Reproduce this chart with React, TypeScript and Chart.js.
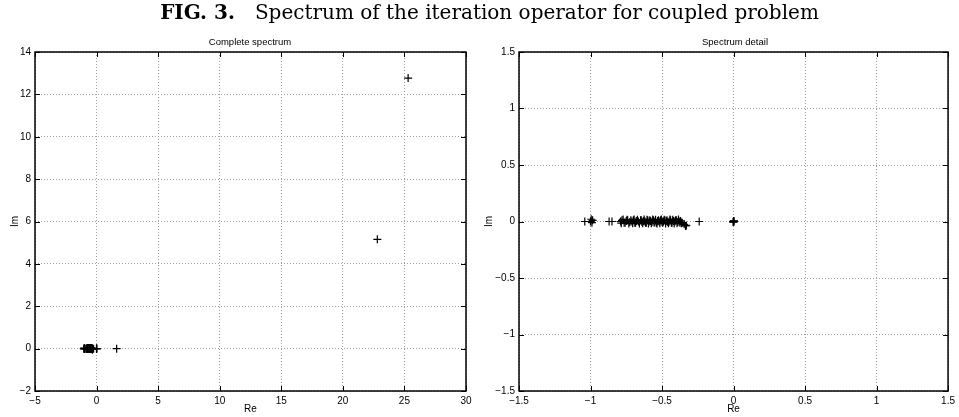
import React, { useEffect, useRef } from "react";
import { Chart, registerables } from "chart.js";
Chart.register(...registerables);

// Eigenvalues of the iteration operator (real and imaginary parts)
const eigRe = [
  25.3, 22.8, 1.63,
  -1.04, -1.0, -0.995, -0.99, -0.985, -0.87, -0.85,
  -0.79, -0.78, -0.765, -0.75, -0.74, -0.725, -0.71, -0.70, -0.69, -0.68,
  -0.665, -0.65, -0.64, -0.63, -0.62, -0.61, -0.60, -0.59, -0.58, -0.57,
  -0.56, -0.55, -0.54, -0.53, -0.52, -0.51, -0.50, -0.49, -0.48, -0.47,
  -0.46, -0.45, -0.44, -0.43, -0.42, -0.41, -0.40, -0.39, -0.38, -0.37, -0.36,
  -0.785, -0.772, -0.758, -0.745, -0.732, -0.718, -0.705, -0.695, -0.685, -0.672,
  -0.658, -0.645, -0.635, -0.625, -0.615, -0.605, -0.595, -0.585, -0.575, -0.565,
  -0.555, -0.545, -0.535, -0.525, -0.515, -0.505, -0.495, -0.485, -0.475, -0.465,
  -0.455, -0.445, -0.435, -0.425, -0.415, -0.405, -0.395, -0.385, -0.375, -0.365,
  -0.345, -0.335, -0.33, -0.24,
  0, 0.003, -0.003, 0, 0.002,
];
const eigIm = [
  12.77, 5.16, 0.0,
  0, 0, 0.02, -0.01, 0.01, 0, 0,
  0, 0.01, -0.01, 0.005, 0.01, -0.005, 0, 0.01, -0.01, 0.005,
  0, 0.01, -0.005, 0.005, 0, -0.01, 0.01, 0, 0.005, -0.005,
  0.01, 0, -0.01, 0.005, 0, 0.01, -0.005, 0, 0.01, 0.005,
  -0.005, 0, 0.01, -0.01, 0.005, 0, 0.01, -0.005, 0, 0.005, -0.01,
  -0.015, 0.018, -0.01, 0.015, -0.018, 0.01, -0.015, 0.018, -0.01, 0.015,
  -0.018, 0.01, -0.015, 0.018, -0.01, 0.015, -0.018, 0.01, -0.015, 0.018,
  -0.01, 0.015, -0.018, 0.01, -0.015, 0.018, -0.01, 0.015, -0.018, 0.01,
  -0.015, 0.018, -0.01, 0.015, -0.018, 0.01, -0.015, 0.018, -0.01, -0.015,
  -0.025, -0.04, -0.035, 0,
  0, 0.005, -0.005, 0.003, -0.003,
];

const mainTitleBold = "FIG. 3.";
const mainTitleText = "Spectrum of the iteration operator for coupled problem";
const leftTitle = "Complete spectrum";
const rightTitle = "Spectrum detail";
const xLabel = "Re";
const yLabel = "Im";

const leftX = { min: -5, max: 30, step: 5 };
const leftY = { min: -2, max: 14, step: 2 };
const rightX = { min: -1.5, max: 1.5, step: 0.5 };
const rightY = { min: -1.5, max: 1.5, step: 0.5 };

const fmt = (v: number) => {
  const r = Math.round(v * 1000) / 1000;
  return (r < 0 ? "\u2212" : "") + String(Math.abs(r));
};

const boxPlugin = {
  id: "matlabBox",
  afterDraw(chart: any) {
    const { ctx, chartArea: a, scales } = chart;
    ctx.save();
    ctx.strokeStyle = "#000";
    ctx.lineWidth = 1;
    const tl = 5;
    ctx.beginPath();
    for (const t of scales.x.ticks) {
      const px = Math.round(scales.x.getPixelForValue(t.value)) + 0.5;
      ctx.moveTo(px, a.bottom);
      ctx.lineTo(px, a.bottom - tl);
      ctx.moveTo(px, a.top);
      ctx.lineTo(px, a.top + tl);
    }
    for (const t of scales.y.ticks) {
      const py = Math.round(scales.y.getPixelForValue(t.value)) + 0.5;
      ctx.moveTo(a.left, py);
      ctx.lineTo(a.left + tl, py);
      ctx.moveTo(a.right, py);
      ctx.lineTo(a.right - tl, py);
    }
    ctx.stroke();
    ctx.lineWidth = 1.5;
    ctx.strokeRect(a.left, a.top, a.right - a.left, a.bottom - a.top);
    ctx.restore();
  },
};

function makeConfig(
  xr: { min: number; max: number; step: number },
  yr: { min: number; max: number; step: number },
  yAxisWidth: number,
  padRight: number,
  yTitlePad: number
): any {
  const tickFont = { family: "'Liberation Sans', Arial, sans-serif", size: 10 };
  const gridCfg = { color: "#a0a0a0", lineWidth: 1, drawTicks: false };
  const borderCfg = { display: false, dash: [1, 2] };
  return {
    type: "scatter",
    data: {
      datasets: [
        {
          data: eigRe.map((x, i) => ({ x, y: eigIm[i] })),
          pointStyle: "cross",
          radius: 4,
          borderColor: "#000",
          backgroundColor: "#000",
          borderWidth: 1.2,
        },
      ],
    },
    options: {
      animation: false,
      responsive: false,
      maintainAspectRatio: false,
      layout: { padding: { top: 52, right: padRight, left: 0, bottom: 0 } },
      plugins: { legend: { display: false }, tooltip: { enabled: false }, title: { display: false } },
      scales: {
        x: {
          type: "linear",
          min: xr.min,
          max: xr.max,
          ticks: { stepSize: xr.step, color: "#000", font: tickFont, padding: 4, maxRotation: 0, callback: (v: number) => fmt(v) },
          grid: gridCfg,
          border: borderCfg,
          title: { display: true, text: xLabel, color: "#000", font: tickFont, padding: { top: 0, bottom: 2 } },
          afterFit: (s: any) => {
            s.height = 26;
          },
        },
        y: {
          type: "linear",
          min: yr.min,
          max: yr.max,
          ticks: { stepSize: yr.step, color: "#000", font: tickFont, padding: 4, callback: (v: number) => fmt(v) },
          grid: gridCfg,
          border: borderCfg,
          title: { display: true, text: yLabel, color: "#000", font: tickFont, padding: { top: yTitlePad, bottom: 0 } },
          afterFit: (s: any) => {
            s.width = yAxisWidth;
          },
        },
      },
    },
    plugins: [boxPlugin],
  };
}

function Plot(props: { cfg: any; left: number; width: number }) {
  const ref = useRef<HTMLCanvasElement | null>(null);
  useEffect(() => {
    if (!ref.current) return;
    const chart = new Chart(ref.current, props.cfg);
    return () => chart.destroy();
  }, []);
  return (
    <canvas
      ref={ref}
      width={props.width}
      height={417}
      style={{ position: "absolute", left: props.left, top: 0, width: props.width, height: 417 }}
    />
  );
}

export default function App() {
  const sub: React.CSSProperties = {
    position: "absolute",
    top: 36,
    fontFamily: "'Liberation Sans', Arial, sans-serif",
    fontSize: 9.5,
    color: "#000",
    textAlign: "center",
    whiteSpace: "nowrap",
  };
  return (
    <div style={{ position: "absolute", left: 0, top: 0, width: 959, height: 417, background: "#fff", overflow: "hidden" }}>
      <Plot cfg={makeConfig(leftX, leftY, 35, 12, 9)} left={0} width={478} />
      <Plot cfg={makeConfig(rightX, rightY, 41, 7, 5)} left={478} width={481} />
      <div
        style={{
          position: "absolute",
          top: 0,
          left: 10,
          width: 959,
          textAlign: "center",
          fontFamily: "'DejaVu Serif', 'Liberation Serif', serif",
          fontSize: 20,
          color: "#000",
          whiteSpace: "nowrap",
        }}
      >
        <span style={{ fontWeight: "bold", marginRight: 20 }}>{mainTitleBold}</span>
        <span>{mainTitleText}</span>
      </div>
      <div style={{ ...sub, left: 150, width: 200 }}>{leftTitle}</div>
      <div style={{ ...sub, left: 635, width: 200 }}>{rightTitle}</div>
    </div>
  );
}
